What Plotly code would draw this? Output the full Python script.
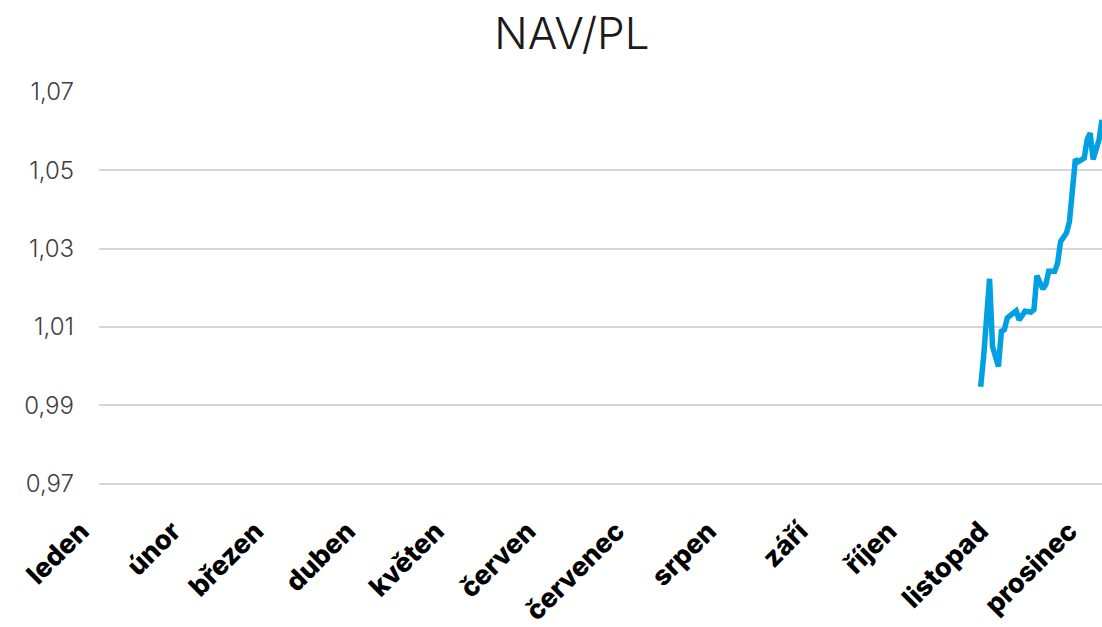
import plotly.graph_objects as go

months = ["leden", "únor", "březen", "duben", "květen", "červen",
          "červenec", "srpen", "září", "říjen", "listopad", "prosinec"]
month_starts = ["2023-01-01", "2023-02-01", "2023-03-01", "2023-04-01",
                "2023-05-01", "2023-06-01", "2023-07-01", "2023-08-01",
                "2023-09-01", "2023-10-01", "2023-11-01", "2023-12-01"]

dates = ["2023-10-26", "2023-10-27", "2023-10-29", "2023-10-30", "2023-11-01",
         "2023-11-02", "2023-11-03", "2023-11-04", "2023-11-07", "2023-11-08",
         "2023-11-10", "2023-11-12", "2023-11-13", "2023-11-14", "2023-11-16",
         "2023-11-17", "2023-11-18", "2023-11-20", "2023-11-21", "2023-11-22",
         "2023-11-24", "2023-11-25", "2023-11-27", "2023-11-28", "2023-11-30",
         "2023-12-01", "2023-12-02", "2023-12-03", "2023-12-05", "2023-12-06"]
nav = [0.9947, 1.0025, 1.0223, 1.0050, 0.9999, 1.0089, 1.0093, 1.0123, 1.0141, 1.0118,
       1.0140, 1.0138, 1.0144, 1.0231, 1.0197, 1.0208, 1.0242, 1.0242, 1.0263, 1.0318,
       1.0340, 1.0369, 1.0528, 1.0522, 1.0531, 1.0579, 1.0595, 1.0528, 1.0578, 1.0629]

y_ticks = [0.97, 0.99, 1.01, 1.03, 1.05, 1.07]

fig = go.Figure()
fig.add_trace(go.Scatter(x=dates, y=nav, mode="lines",
                         line=dict(color="#00A0E3", width=5.5), showlegend=False))

fig.update_layout(
    width=1102, height=627,
    margin=dict(l=99, r=0, t=92, b=118),
    paper_bgcolor="white", plot_bgcolor="white",
    separators=", ",
    title=dict(text="NAV/PL", x=0.519, xanchor="center", y=0.947, yanchor="middle",
               font=dict(family="Inter", size=44, color="#1a1a1a", weight=300)),
    xaxis=dict(type="date", range=["2023-01-01", "2023-12-06"], automargin=False,
               tickmode="array", tickvals=month_starts, ticktext=months,
               tickangle=-45, ticklabelshift=-18,
               showgrid=False, showline=False, zeroline=False,
               ticks="", tickfont=dict(family="Inter", size=27, color="#000000", weight=800)),
    yaxis=dict(range=[0.9635, 1.07], tickmode="array", tickvals=y_ticks, automargin=False,
               tickformat=".2f", showgrid=True, gridcolor="#D6D6D6", gridwidth=2,
               zeroline=False, showline=False, ticks="", ticklabelstandoff=24,
               tickfont=dict(family="Inter", size=24, color="#404040", weight=300)),
)

fig.write_html("out.html", config={"displayModeBar": False},
               post_script="document.body.style.margin='0';")
